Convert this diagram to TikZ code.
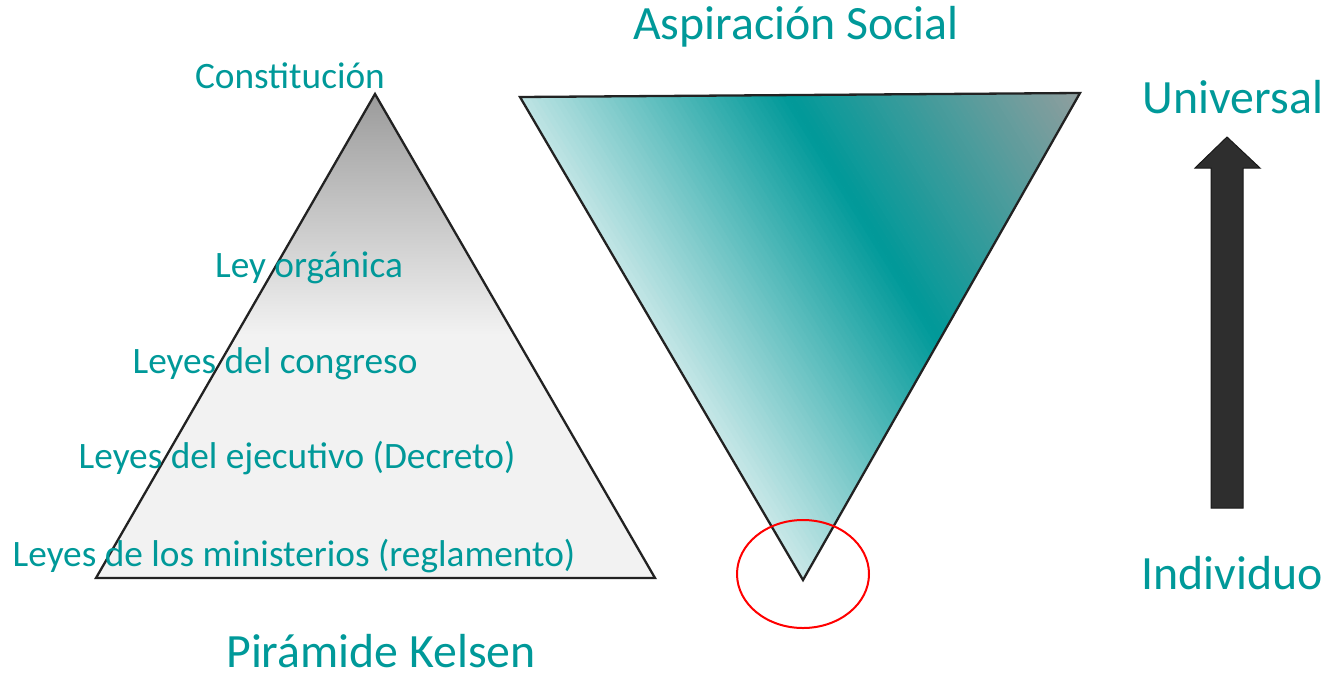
\documentclass[tikz,border=0pt]{standalone}
\usepackage{fontspec}
\usetikzlibrary{shapes.geometric}
\setmainfont{Carlito}
\definecolor{txtteal}{RGB}{0,153,153}
\definecolor{cwhite}{RGB}{234,245,245}
\definecolor{cteal}{RGB}{0,153,153}
\definecolor{cgray}{RGB}{147,158,158}
\definecolor{pyrtop}{RGB}{155,155,155}
\definecolor{pyrlow}{RGB}{242,242,242}
\definecolor{edge}{RGB}{34,34,34}
\definecolor{arrowfill}{RGB}{46,46,46}
\tikzset{
  lbl/.style={text=txtteal, inner sep=0pt, anchor=base, font=\fontsize{37.3}{44}\selectfont},
  ttl/.style={text=txtteal, inner sep=0pt, anchor=base, font=\fontsize{47.8}{56}\selectfont},
  outline/.style={draw=edge, line width=2.3pt, line join=miter},
  ring/.style={draw=red, line width=2pt},
  blockarrow/.style={fill=arrowfill, draw=black!90, line width=1pt}
}
\begin{document}
\begin{tikzpicture}[x=1pt,y=-1pt]
\useasboundingbox (0,0) rectangle (1327,675);
% left pyramid
\coordinate (pa) at (375,94);
\coordinate (pl) at (96,578);
\coordinate (pr) at (655,578);
\fill[pyrlow] (pa) -- (pl) -- (pr) -- cycle;
\begin{scope}
  \clip (pa) -- (pl) -- (pr) -- cycle;
  \shade[top color=pyrtop, bottom color=pyrlow] (90,94) rectangle (660,335);
\end{scope}
\draw[outline] (pa) -- (pl) -- (pr) -- cycle;
% inverted triangle
\coordinate (ta) at (520,97);
\coordinate (tb) at (1080,93);
\coordinate (tc) at (803,580);
\begin{scope}
  \clip (ta) -- (tb) -- (tc) -- cycle;
  \foreach \i in {0,...,102}{
    \pgfmathsetmacro\ta{-255+5*\i}
    \pgfmathsetmacro\tb{\ta+5.6}
    \pgfmathsetmacro\tm{\ta+2.5}
    \pgfmathsetmacro\pw{max(0,min(100,(\tm+280)/280*100))}
    \pgfmathsetmacro\pg{max(0,min(100,\tm/255*100))}
    \ifdim\tm pt<0pt
      \colorlet{stripc}{cteal!\pw!cwhite}
    \else
      \colorlet{stripc}{cgray!\pg!cteal}
    \fi
    \fill[stripc] ({790+0.85*\ta-368},{100-0.526*\ta-595}) -- ({790+0.85*\tb-368},{100-0.526*\tb-595}) -- ({790+0.85*\tb+368},{100-0.526*\tb+595}) -- ({790+0.85*\ta+368},{100-0.526*\ta+595}) -- cycle;
  }
\end{scope}
\draw[outline] (ta) -- (tb) -- (tc) -- cycle;
% red ellipse
\node[ring, ellipse, minimum width=132pt, minimum height=108pt, inner sep=0pt] (circ) at (803,574) {};
% arrow
\draw[blockarrow] (1227,137) -- (1260,168) -- (1243,168) -- (1243,508) -- (1211,508) -- (1211,168) -- (1195,168) -- cycle;
% labels
\node[lbl] (l1) at (290,88) {Constitución};
\node[lbl] (l2) at (309,277) {Ley orgánica};
\node[lbl] (l3) at (275,373) {Leyes del congreso};
\node[lbl] (l4) at (297,468) {Leyes del ejecutivo (Decreto)};
\node[lbl] (l5) at (294,566) {Leyes de los ministerios (reglamento)};
\node[ttl] (t1) at (796,39) {Aspiración Social};
\node[ttl] (t2) at (1233,113) {Universal};
\node[ttl] (t3) at (1232,589) {Individuo};
\node[ttl] (t4) at (381,667) {Pirámide Kelsen};
\end{tikzpicture}
\end{document}
